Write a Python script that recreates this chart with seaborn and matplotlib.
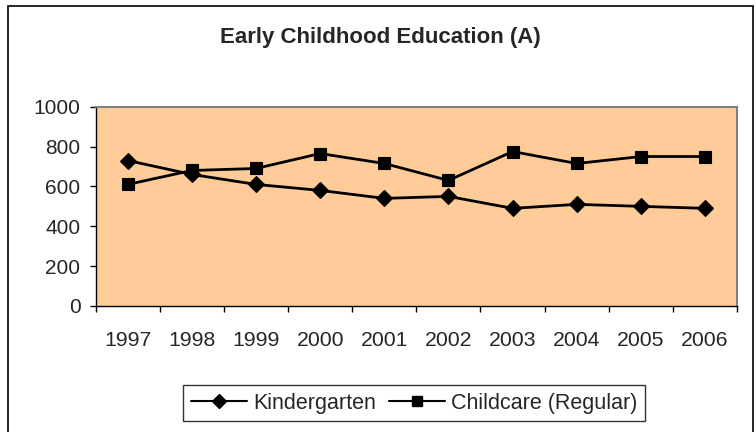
import numpy as np
import pandas as pd
import matplotlib
matplotlib.use("Agg")
import matplotlib.pyplot as plt
import matplotlib.patches as mpatches
from matplotlib.lines import Line2D
import seaborn as sns

# ── Data ───────────────────────────────────────────────────────────────────────
years = ["1997", "1998", "1999", "2000", "2001", "2002", "2003", "2004", "2005", "2006"]
kindergarten = [730, 660, 610, 580, 540, 550, 490, 510, 500, 490]
childcare = [610, 680, 690, 765, 715, 630, 775, 715, 750, 750]
series_names = ["Kindergarten", "Childcare (Regular)"]
y_ticks = [0, 200, 400, 600, 800, 1000]

# ── Style ──────────────────────────────────────────────────────────────────────
PLOT_BG = "#FFCC99"
FONT = ["Liberation Sans", "DejaVu Sans"]

sns.set_style("white")
plt.rcParams["font.family"] = FONT

df = pd.DataFrame({
    "pos": list(range(len(years))) * 2,
    "value": kindergarten + childcare,
    "series": [series_names[0]] * len(years) + [series_names[1]] * len(years),
})

fig = plt.figure(figsize=(7.56, 4.32), dpi=100)
ax = fig.add_axes([0.1266, 0.2917, 0.8483, 0.4613])
ax.set_facecolor(PLOT_BG)

sns.lineplot(
    data=df, x="pos", y="value", hue="series", style="series",
    palette={series_names[0]: "black", series_names[1]: "black"},
    markers={series_names[0]: "D", series_names[1]: "s"},
    dashes=False, markersize=8, linewidth=2, legend=False, ax=ax,
    markeredgecolor="black", markeredgewidth=0.8,
)

ax.set_xlim(-0.5, len(years) - 0.5)
ax.set_ylim(0, 1000)
ax.set_xlabel("")
ax.set_ylabel("")

ax.set_yticks(y_ticks)
ax.set_yticklabels([str(t) for t in y_ticks], fontsize=15)
ax.tick_params(axis="y", direction="out", length=4, width=1, color="black", pad=7, left=True)

ax.set_xticks(range(len(years)))
ax.set_xticklabels(years, fontsize=15.3)
ax.set_xticks(np.arange(-0.5, len(years)), minor=True)
ax.tick_params(axis="x", which="major", length=0, pad=18, bottom=True)
ax.tick_params(axis="x", which="minor", direction="out", length=4, width=1, color="black", bottom=True)

for side in ["left", "bottom"]:
    ax.spines[side].set_color("black")
    ax.spines[side].set_linewidth(1)
for side in ["top", "right"]:
    ax.spines[side].set_color("#808080")
    ax.spines[side].set_linewidth(1.5)

fig.text(0.503, 0.913, "Early Childhood Education (A)", ha="center", va="center",
         fontsize=16, fontweight="bold")

handles = [
    Line2D([], [], color="black", lw=1.5, marker="D", markersize=7),
    Line2D([], [], color="black", lw=1.5, marker="s", markersize=7),
]
leg = fig.legend(handles, series_names, loc="center", bbox_to_anchor=(0.548, 0.067),
                 ncol=2, frameon=True, fancybox=False, fontsize=15.5,
                 handlelength=2.6, handletextpad=0.3, columnspacing=0.6,
                 borderpad=0.35, edgecolor="black")
leg.get_frame().set_linewidth(1)

fig.patches.append(mpatches.Rectangle(
    (7.5 / 756, -0.01), (753 - 7.5) / 756, 1 - 6 / 432 + 0.01,
    transform=fig.transFigure, fill=False, edgecolor="black", linewidth=1.2,
))

fig.savefig("out.png", dpi=100)
